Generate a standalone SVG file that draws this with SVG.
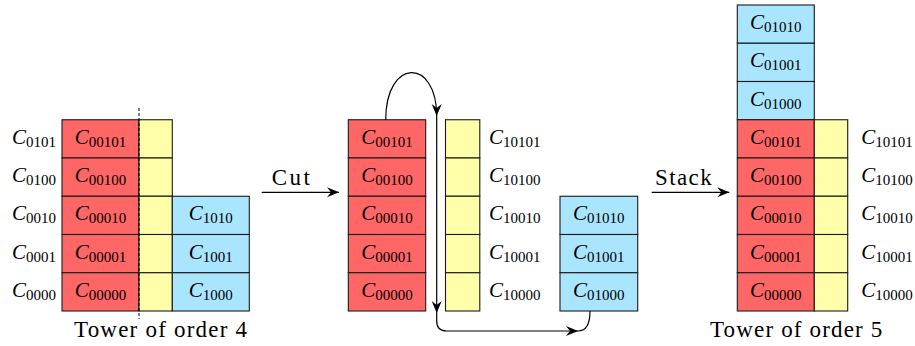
<svg xmlns="http://www.w3.org/2000/svg" width="915" height="346" viewBox="0 0 915 346">
<style>
.r{fill:#ff6666;stroke:#1a1a1a;stroke-width:1.1}
.y{fill:#ffffaa;stroke:#1a1a1a;stroke-width:1.1}
.b{fill:#aae5ff;stroke:#1a1a1a;stroke-width:1.1}
.c{font-family:"Liberation Serif","Times New Roman",serif;font-size:21px;font-style:italic;fill:#000;text-anchor:middle}
.c tspan{font-style:normal;font-size:15px}
.t{font-family:"Liberation Serif","Times New Roman",serif;font-size:23px;fill:#000}
.ln{fill:none;stroke:#000;stroke-width:1.2}
</style>
<defs>
<marker id="ah" viewBox="-13 -6 15 12" refX="0" refY="0" markerWidth="15" markerHeight="12" markerUnits="userSpaceOnUse" orient="auto">
<path d="M0,0 L-12,-5 L-8,0 L-12,5 Z" fill="#000"/>
</marker>
</defs>

<!-- Left tower (order 4) -->
<g id="L-r5"><rect class="r" x="62" y="119.75" width="77" height="38.25"/><text class="c" x="100.5" y="143.8">C<tspan dy="3">00101</tspan></text></g>
<g id="L-r4"><rect class="r" x="62" y="158" width="77" height="38.25"/><text class="c" x="100.5" y="182">C<tspan dy="3">00100</tspan></text></g>
<g id="L-r3"><rect class="r" x="62" y="196.25" width="77" height="38.25"/><text class="c" x="100.5" y="220.3">C<tspan dy="3">00010</tspan></text></g>
<g id="L-r2"><rect class="r" x="62" y="234.5" width="77" height="38.25"/><text class="c" x="100.5" y="258.5">C<tspan dy="3">00001</tspan></text></g>
<g id="L-r1"><rect class="r" x="62" y="272.75" width="77" height="38.25"/><text class="c" x="100.5" y="296.8">C<tspan dy="3">00000</tspan></text></g>
<g id="L-y5"><rect class="y" x="139" y="119.75" width="33.3" height="38.25"/></g>
<g id="L-y4"><rect class="y" x="139" y="158" width="33.3" height="38.25"/></g>
<g id="L-y3"><rect class="y" x="139" y="196.25" width="33.3" height="38.25"/></g>
<g id="L-y2"><rect class="y" x="139" y="234.5" width="33.3" height="38.25"/></g>
<g id="L-y1"><rect class="y" x="139" y="272.75" width="33.3" height="38.25"/></g>
<g id="L-b3"><rect class="b" x="172.3" y="196.25" width="77" height="38.25"/><text class="c" x="210.8" y="220.3">C<tspan dy="3">1010</tspan></text></g>
<g id="L-b2"><rect class="b" x="172.3" y="234.5" width="77" height="38.25"/><text class="c" x="210.8" y="258.5">C<tspan dy="3">1001</tspan></text></g>
<g id="L-b1"><rect class="b" x="172.3" y="272.75" width="77" height="38.25"/><text class="c" x="210.8" y="296.8">C<tspan dy="3">1000</tspan></text></g>
<g id="L-labels">
<text class="c" x="34" y="143.8">C<tspan dy="3">0101</tspan></text>
<text class="c" x="34" y="182">C<tspan dy="3">0100</tspan></text>
<text class="c" x="34" y="220.3">C<tspan dy="3">0010</tspan></text>
<text class="c" x="34" y="258.5">C<tspan dy="3">0001</tspan></text>
<text class="c" x="34" y="296.8">C<tspan dy="3">0000</tspan></text>
</g>
<line id="cutline" x1="139" y1="108" x2="139" y2="319" stroke="#000" stroke-width="1" stroke-dasharray="3,2"/>
<g id="L-title"><text class="t" x="74" y="336.7" textLength="173" lengthAdjust="spacing">Tower of order 4</text></g>

<!-- Middle (cut) -->
<g id="M-r5"><rect class="r" x="348.3" y="119.75" width="77.4" height="38.25"/><text class="c" x="387" y="143.8">C<tspan dy="3">00101</tspan></text></g>
<g id="M-r4"><rect class="r" x="348.3" y="158" width="77.4" height="38.25"/><text class="c" x="387" y="182">C<tspan dy="3">00100</tspan></text></g>
<g id="M-r3"><rect class="r" x="348.3" y="196.25" width="77.4" height="38.25"/><text class="c" x="387" y="220.3">C<tspan dy="3">00010</tspan></text></g>
<g id="M-r2"><rect class="r" x="348.3" y="234.5" width="77.4" height="38.25"/><text class="c" x="387" y="258.5">C<tspan dy="3">00001</tspan></text></g>
<g id="M-r1"><rect class="r" x="348.3" y="272.75" width="77.4" height="38.25"/><text class="c" x="387" y="296.8">C<tspan dy="3">00000</tspan></text></g>
<g id="M-y5"><rect class="y" x="445.5" y="119.75" width="34.3" height="38.25"/><text class="c" x="514.7" y="143.8">C<tspan dy="3">10101</tspan></text></g>
<g id="M-y4"><rect class="y" x="445.5" y="158" width="34.3" height="38.25"/><text class="c" x="514.7" y="182">C<tspan dy="3">10100</tspan></text></g>
<g id="M-y3"><rect class="y" x="445.5" y="196.25" width="34.3" height="38.25"/><text class="c" x="514.7" y="220.3">C<tspan dy="3">10010</tspan></text></g>
<g id="M-y2"><rect class="y" x="445.5" y="234.5" width="34.3" height="38.25"/><text class="c" x="514.7" y="258.5">C<tspan dy="3">10001</tspan></text></g>
<g id="M-y1"><rect class="y" x="445.5" y="272.75" width="34.3" height="38.25"/><text class="c" x="514.7" y="296.8">C<tspan dy="3">10000</tspan></text></g>
<g id="M-b3"><rect class="b" x="560" y="196.25" width="77.7" height="38.25"/><text class="c" x="598.8" y="220.3">C<tspan dy="3">01010</tspan></text></g>
<g id="M-b2"><rect class="b" x="560" y="234.5" width="77.7" height="38.25"/><text class="c" x="598.8" y="258.5">C<tspan dy="3">01001</tspan></text></g>
<g id="M-b1"><rect class="b" x="560" y="272.75" width="77.7" height="38.25"/><text class="c" x="598.8" y="296.8">C<tspan dy="3">01000</tspan></text></g>

<!-- Right tower (order 5) -->
<g id="R-b3"><rect class="b" x="737.3" y="5" width="77" height="38.25"/><text class="c" x="775.8" y="29">C<tspan dy="3">01010</tspan></text></g>
<g id="R-b2"><rect class="b" x="737.3" y="43.25" width="77" height="38.25"/><text class="c" x="775.8" y="67.3">C<tspan dy="3">01001</tspan></text></g>
<g id="R-b1"><rect class="b" x="737.3" y="81.5" width="77" height="38.25"/><text class="c" x="775.8" y="105.5">C<tspan dy="3">01000</tspan></text></g>
<g id="R-r5"><rect class="r" x="737.3" y="119.75" width="77" height="38.25"/><text class="c" x="775.8" y="143.8">C<tspan dy="3">00101</tspan></text></g>
<g id="R-r4"><rect class="r" x="737.3" y="158" width="77" height="38.25"/><text class="c" x="775.8" y="182">C<tspan dy="3">00100</tspan></text></g>
<g id="R-r3"><rect class="r" x="737.3" y="196.25" width="77" height="38.25"/><text class="c" x="775.8" y="220.3">C<tspan dy="3">00010</tspan></text></g>
<g id="R-r2"><rect class="r" x="737.3" y="234.5" width="77" height="38.25"/><text class="c" x="775.8" y="258.5">C<tspan dy="3">00001</tspan></text></g>
<g id="R-r1"><rect class="r" x="737.3" y="272.75" width="77" height="38.25"/><text class="c" x="775.8" y="296.8">C<tspan dy="3">00000</tspan></text></g>
<g id="R-y5"><rect class="y" x="814.3" y="119.75" width="33.4" height="38.25"/><text class="c" x="887" y="143.8">C<tspan dy="3">10101</tspan></text></g>
<g id="R-y4"><rect class="y" x="814.3" y="158" width="33.4" height="38.25"/><text class="c" x="887" y="182">C<tspan dy="3">10100</tspan></text></g>
<g id="R-y3"><rect class="y" x="814.3" y="196.25" width="33.4" height="38.25"/><text class="c" x="887" y="220.3">C<tspan dy="3">10010</tspan></text></g>
<g id="R-y2"><rect class="y" x="814.3" y="234.5" width="33.4" height="38.25"/><text class="c" x="887" y="258.5">C<tspan dy="3">10001</tspan></text></g>
<g id="R-y1"><rect class="y" x="814.3" y="272.75" width="33.4" height="38.25"/><text class="c" x="887" y="296.8">C<tspan dy="3">10000</tspan></text></g>
<g id="R-title"><text class="t" x="710" y="336.7" textLength="172.3" lengthAdjust="spacing">Tower of order 5</text></g>

<!-- Connectors -->
<g id="connectors">
<path class="ln" d="M261.7,192.3 L339,192.3" stroke-width="1.6" marker-end="url(#ah)"/>
<text class="t" x="271.7" y="185" textLength="38.3" lengthAdjust="spacing">Cut</text>
<path class="ln" d="M651.7,192.3 L729.3,192.3" stroke-width="1.6" marker-end="url(#ah)"/>
<text class="t" x="655" y="185" textLength="56.7" lengthAdjust="spacing">Stack</text>
<path class="ln" d="M385.7,120 C385.7,57.6 436.7,57.6 436.7,116" marker-end="url(#ah)"/>
<path class="ln" d="M436.7,116 L436.7,313" marker-end="url(#ah)"/>
<path class="ln" d="M436.7,313 L436.7,321 Q436.7,331 446.7,331 L578,331" marker-end="url(#ah)"/>
<path class="ln" d="M578,331 C586,331 590,325 590,311"/>
</g>
</svg>
